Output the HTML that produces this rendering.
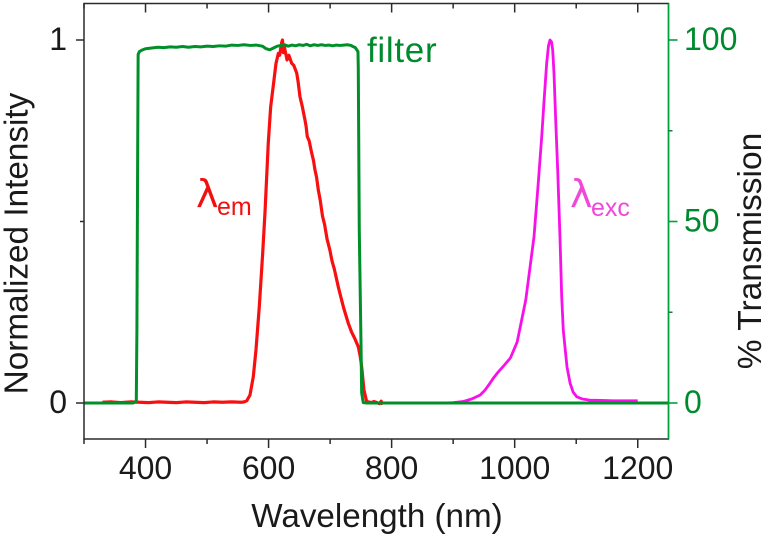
<!DOCTYPE html>
<html>
<head>
<meta charset="utf-8">
<title>Emission, excitation and filter spectra</title>
<style>
html,body{margin:0;padding:0;background:#fff;}
svg{display:block;font-family:"Liberation Sans",Arial,sans-serif;filter:blur(0.35px);}
</style>
</head>
<body>
<svg id="chart" width="765" height="537" viewBox="0 0 765 537" xmlns="http://www.w3.org/2000/svg">
<g id="series"></g>
<g id="axes"></g>
<g id="labels"></g>
<text x="377" y="527" font-size="33.2" text-anchor="middle" fill="#1a1a1a">Wavelength (nm)</text>
<text transform="translate(27.5,243.5) rotate(-90)" font-size="33.3" text-anchor="middle" fill="#1a1a1a">Normalized Intensity</text>
<text transform="translate(761,251) rotate(-90)" font-size="33.5" text-anchor="middle" fill="#1a1a1a">% Transmission</text>
<text x="367" y="62" font-size="35" letter-spacing="0.7" fill="#008a2e">filter</text>
<text x="196" y="207" font-size="38" fill="#f01010" font-family="'DejaVu Sans',sans-serif">λ</text>
<text x="217" y="215" font-size="25" fill="#f01010">em</text>
<text x="570" y="207" font-size="38" fill="#f048d8" font-family="'DejaVu Sans',sans-serif">λ</text>
<text x="591" y="216" font-size="25" fill="#f048d8">exc</text>
</svg>
<script>
const xMajorTicks = [400, 600, 800, 1000, 1200];
const xMinorTicks = [500, 700, 900, 1100];
const leftMajorTicks = [0, 1];
const leftMinorTicks = [0.5];
const rightMajorTicks = [0, 50, 100];
const rightMinorTicks = [25, 75];

const filterWavelengths = [300,340,380,385,386,387,388,390,394,400,410,420,430,440,450,460,470,480,490,500,510,520,530,540,550,560,570,580,590,596,602,608,614,620,626,632,638,644,650,656,662,668,674,680,686,692,698,704,710,716,722,728,734,737,741,745.3,745.8,747.4,750.2,751.3,753.9,760,800,900,1000,1100,1200,1250];
const filterValues = [0,0,0,0.5,20,60,96,96.8,97.2,97.6,97.8,98,97.9,98.1,98,98.2,98,98.2,98.1,98.3,98.2,98.4,98.3,98.6,98.5,98.7,98.5,98.6,98.3,97.6,97.3,97.8,98.3,98.5,98.7,98.3,98.6,98.4,98.7,98.5,98.8,98.4,98.7,98.5,98.7,98.5,98.6,98.4,98.6,98.5,98.6,98.7,98.5,98.2,97.9,96.8,92.3,47.7,16.5,2.8,0.1,0,0,0,0,0,0,0];

const emissionWavelengths = [330,345,360,375,390,405,420,435,450,465,480,495,510,525,540,555,560,564.5,569.8,575.2,579.5,584.9,590.4,594.2,599.5,603.4,608.8,612,615.8,618,621.3,622.6,624,625.5,626.7,630,633,637.5,641,645.7,648,651,655,659.2,661,662.9,666,670,673,675.4,678,680.8,684,687.6,691,695,699.8,703,707,713.3,717,722,729.5,735,740,745.8,749,751.3,755,759.4,763,767,771,775,780,783,785];
const emissionValues = [0.002,0.003,0.001,0.003,0.002,0.001,0.003,0.002,0.001,0.003,0.002,0.001,0.003,0.002,0.003,0.002,0.003,0.006,0.022,0.073,0.146,0.265,0.412,0.526,0.716,0.816,0.89,0.935,0.963,0.958,0.993,1,0.965,0.985,0.972,0.945,0.958,0.936,0.93,0.909,0.885,0.844,0.815,0.779,0.762,0.734,0.722,0.689,0.668,0.642,0.622,0.587,0.558,0.515,0.492,0.452,0.42,0.392,0.368,0.32,0.295,0.262,0.22,0.195,0.178,0.155,0.128,0.1,0.036,0.004,0.003,0.001,0.004,0.002,-0.002,0.005,-0.005];

const excitationWavelengths = [887,900,916,930,944,952,960,966,973,983,993,1004,1012,1018,1025,1031.4,1038.4,1043.9,1048.2,1052,1055,1057.4,1059.8,1061.8,1063.9,1066.7,1069.9,1073.6,1076.4,1079,1085,1090,1095,1101,1110,1122,1140,1160,1180,1200];
const excitationValues = [0,0.001,0.004,0.011,0.022,0.036,0.055,0.07,0.085,0.104,0.124,0.168,0.234,0.284,0.375,0.458,0.608,0.733,0.844,0.936,0.985,1,0.995,0.972,0.908,0.778,0.642,0.458,0.293,0.2,0.1,0.055,0.03,0.017,0.011,0.008,0.007,0.006,0.006,0.006];

const NS = 'http://www.w3.org/2000/svg';
const plotLeft = 84, plotRight = 668.5, plotTop = 3.5, plotBottom = 439;
const xMin = 300, xMax = 1250;
const axisBlack = '#2b2b2b', axisGreen = '#00a23c', textGreen = '#008a2e', textBlack = '#1a1a1a';

function xScale(v) { return plotLeft + (v - xMin) / (xMax - xMin) * (plotRight - plotLeft); }
function yLeft(v) { return 403 - v * 363; }
function yRight(v) { return 403 - v / 100 * 363; }

function makeLine(parent, x1, y1, x2, y2, color, width) {
  const el = document.createElementNS(NS, 'line');
  el.setAttribute('x1', x1);
  el.setAttribute('y1', y1);
  el.setAttribute('x2', x2);
  el.setAttribute('y2', y2);
  el.setAttribute('stroke', color);
  el.setAttribute('stroke-width', width);
  parent.appendChild(el);
  return el;
}

function makeText(parent, x, y, str, anchor, color) {
  const el = document.createElementNS(NS, 'text');
  el.setAttribute('x', x);
  el.setAttribute('y', y);
  el.setAttribute('font-size', '32');
  el.setAttribute('text-anchor', anchor);
  el.setAttribute('fill', color);
  el.textContent = str;
  parent.appendChild(el);
  return el;
}

function makeSeries(xs, ys, yFn, color, width) {
  const el = document.createElementNS(NS, 'polyline');
  el.setAttribute('points', xs.map(function (x, i) { return xScale(x).toFixed(2) + ',' + yFn(ys[i]).toFixed(2); }).join(' '));
  el.setAttribute('fill', 'none');
  el.setAttribute('stroke', color);
  el.setAttribute('stroke-width', width);
  el.setAttribute('stroke-linejoin', 'round');
  document.getElementById('series').appendChild(el);
  return el;
}

const excitationLine = makeSeries(excitationWavelengths, excitationValues, yLeft, '#f810ea', 2.8);


const emissionLine = makeSeries(emissionWavelengths, emissionValues, yLeft, '#f81010', 3.2);


const filterLine = makeSeries(filterWavelengths, filterValues, yRight, '#008f28', 3);



const axes = document.getElementById('axes');
const labels = document.getElementById('labels');

const topAxis = makeLine(axes, plotLeft - 0.7, plotTop, plotRight + 0.7, plotTop, axisBlack, 1.5);


const bottomAxis = makeLine(axes, plotLeft - 0.7, plotBottom, plotRight + 0.7, plotBottom, axisBlack, 1.5);


const leftAxis = makeLine(axes, plotLeft, plotTop, plotLeft, plotBottom, axisBlack, 1.5);


const rightAxis = makeLine(axes, plotRight, plotTop, plotRight, plotBottom, axisGreen, 1.8);



xMajorTicks.forEach(function (v) {
  const x = xScale(v);
  const tick = makeLine(axes, x, plotBottom, x, plotBottom + 9, axisBlack, 1.5);
  
  
  const topTick = makeLine(axes, x, plotTop, x, plotTop + 9, axisBlack, 1.5);
  
  
  const label = makeText(labels, x, 479, String(v), 'middle', textBlack);
  
  
});

xMinorTicks.concat([xMin]).forEach(function (v) {
  const x = xScale(v);
  const tick = makeLine(axes, x, plotBottom, x, plotBottom + 5, axisBlack, 1.5);
  
  
  const topTick = makeLine(axes, x, plotTop, x, plotTop + 5, axisBlack, 1.5);
  
  
});

leftMajorTicks.forEach(function (v) {
  const y = yLeft(v);
  const tick = makeLine(axes, plotLeft - 8, y, plotLeft, y, axisBlack, 1.5);
  
  
  const label = makeText(labels, 67, y + 10, String(v), 'end', textBlack);
  
  
});

leftMinorTicks.forEach(function (v) {
  const y = yLeft(v);
  const tick = makeLine(axes, plotLeft - 4, y, plotLeft, y, axisBlack, 1.5);
  
  
});

rightMajorTicks.forEach(function (v) {
  const y = yRight(v);
  const tick = makeLine(axes, plotRight, y, plotRight + 9, y, axisGreen, 1.6);
  
  
  const label = makeText(labels, 684, y + 10, String(v), 'start', textGreen);
  
  
});

rightMinorTicks.forEach(function (v) {
  const y = yRight(v);
  const tick = makeLine(axes, plotRight, y, plotRight + 4, y, '#1f7a40', 1.5);
  
  
});
</script>
</body>
</html>
